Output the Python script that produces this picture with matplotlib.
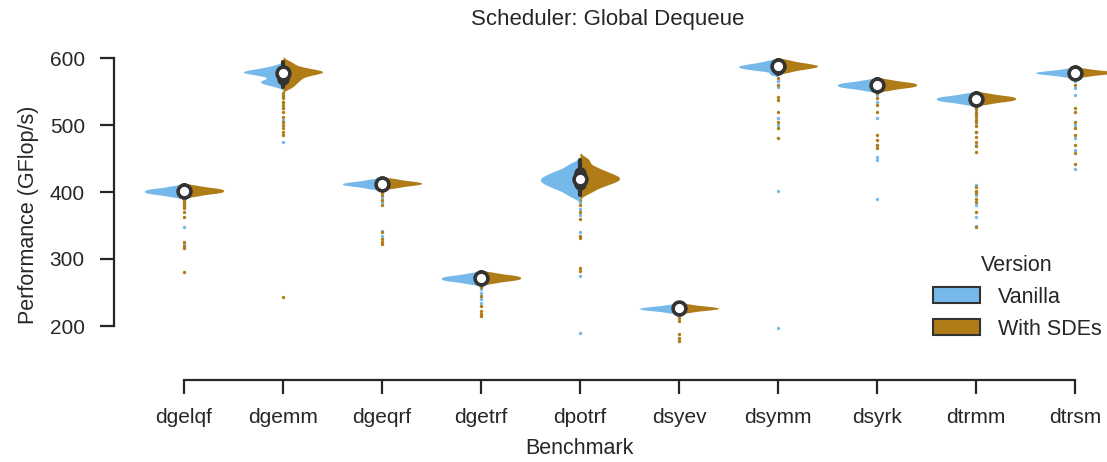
import numpy as np
import matplotlib
matplotlib.use("Agg")
import matplotlib.pyplot as plt
from matplotlib.patches import Patch

# ---------------- data ----------------
benchmarks = ["dgelqf", "dgemm", "dgeqrf", "dgetrf", "dpotrf",
              "dsyev", "dsymm", "dsyrk", "dtrmm", "dtrsm"]
versions = ["Vanilla", "With SDEs"]

# representative samples of the body of each distribution (GFlop/s)
vanilla_body = [
    [393, 395.5, 397, 398, 399, 400, 401, 402, 403, 404, 405, 406.5, 409],
    [559, 562, 564, 566, 568, 573, 575.5, 577, 578, 579, 580, 581, 582.5, 584.5, 588],
    [405, 407, 408.5, 409.5, 410.5, 411, 412, 413, 413.5, 414.5, 415.5, 417, 419],
    [263, 265.5, 267, 268, 269, 270, 271, 272, 273, 274, 275, 276.5, 279],
    [395, 402.5, 406.5, 410, 413, 415.5, 418, 420.5, 423, 426, 429.5, 433.5, 441],
    [220, 222, 223, 224, 224.5, 225.5, 226, 226.5, 227.5, 228, 229, 230, 232],
    [576, 581, 582.5, 584, 585, 586, 587, 588, 589, 590, 591.5, 593, 596],
    [551.5, 554, 555.5, 556.5, 557.5, 558.5, 559.5, 560.5, 561.5, 562.5, 563.5, 565, 567.5],
    [531, 533.5, 535, 536, 537, 538, 539, 540, 541, 542, 543, 544.5, 547],
    [572, 574, 575, 576, 576.5, 577.5, 578, 578.5, 579.5, 580, 581, 582, 584],
]
sdes_body = [
    [394, 396.5, 398, 399, 400, 401, 402, 403, 404, 405, 406, 407.5, 410],
    [556, 561, 565, 568, 571, 574, 576, 577.5, 578.5, 579.5, 580.5, 581.5, 583, 585, 589, 594],
    [406, 408, 409.5, 410.5, 411.5, 412, 413, 414, 414.5, 415.5, 416.5, 418, 420],
    [264, 266.5, 268, 269, 270, 271, 272, 273, 274, 275, 276, 277.5, 280],
    [400, 407, 411, 414, 417, 419, 421, 423.5, 426, 429, 433, 438, 448],
    [220.5, 222.5, 223.5, 224.5, 225, 226, 226.5, 227, 228, 228.5, 229.5, 230.5, 232.5],
    [579, 582, 583.5, 585, 586, 587, 588, 589, 590, 591, 592.5, 594, 597],
    [552, 554.5, 556, 557, 558, 559, 560, 561, 562, 563, 564, 565.5, 568],
    [531.5, 534, 535.5, 536.5, 537.5, 538.5, 539.5, 540.5, 541.5, 542.5, 543.5, 545, 547.5],
    [572.5, 574.5, 575.5, 576.5, 577, 578, 578.5, 579, 580, 580.5, 581.5, 582.5, 584.5],
]
# isolated low runs shown as small dots
vanilla_tail = [
    [395, 390, 385, 380, 348, 322, 318],
    [545, 535, 525, 507, 475],
    [398, 392, 385, 342, 335],
    [262, 255, 249, 240, 234],
    [385, 375, 365, 340, 275, 190],
    [219, 178],
    [565, 557, 510, 500, 401, 197],
    [545, 535, 510, 470, 452, 448, 390],
    [525, 515, 500, 490, 470, 410, 395, 380, 362, 350],
    [565, 555, 545, 500, 480, 462, 435],
]
sdes_tail = [
    [392, 388, 385, 382, 379, 376, 370, 362, 325, 320, 316, 280],
    [548, 544, 540, 535, 530, 525, 520, 512, 505, 500, 495, 490, 485, 243],
    [400, 395, 388, 380, 340, 330, 325, 322],
    [264, 258, 245, 230, 222, 218, 215],
    [388, 380, 370, 360, 335, 331, 287, 282],
    [218, 212, 208, 188, 182, 177],
    [570, 560, 542, 537, 519, 505, 496, 481],
    [548, 540, 530, 520, 485, 478, 470, 466],
    [528, 524, 520, 516, 512, 508, 505, 498, 490, 482, 475, 468, 460,
     408, 402, 398, 390, 385, 370, 348],
    [560, 525, 520, 505, 495, 485, 470, 458, 442],
]
yticks = [200, 300, 400, 500, 600]

# ---------------- style ----------------
BLUE = "#74b9e9"
BROWN = "#b07c18"
GRAY = "#333333"
TEXT = "#262626"
plt.rcParams["font.family"] = ["Liberation Sans", "DejaVu Sans"]
plt.rcParams["text.color"] = TEXT
plt.rcParams["axes.labelcolor"] = TEXT
plt.rcParams["xtick.color"] = TEXT
plt.rcParams["ytick.color"] = TEXT

W, H = 1107, 462
fig = plt.figure(figsize=(W / 100, H / 100), dpi=100)
ax_left, ax_right = 134.5, 1124.5
ax_top, ax_bot = 51.3, 359.5
ax = fig.add_axes([ax_left / W, 1 - ax_bot / H, (ax_right - ax_left) / W,
                   (ax_bot - ax_top) / H])
ax.set_xlim(-0.5, len(benchmarks) - 0.5)
ax.set_ylim(150, 610)


def kde(samples, bw_adjust=0.6, cut=2.0):
    s = np.asarray(samples, dtype=float)
    bw = bw_adjust * 1.06 * s.std(ddof=1) * len(s) ** (-0.2)
    grid = np.linspace(s.min() - cut * bw, s.max() + cut * bw, 300)
    d = np.exp(-0.5 * ((grid[:, None] - s[None, :]) / bw) ** 2).sum(axis=1)
    return grid, d / d.max()


half = 0.4
for i, name in enumerate(benchmarks):
    # tail dots
    ax.scatter(np.full(len(vanilla_tail[i]), i), vanilla_tail[i], s=6,
               color=BLUE, linewidths=0, zorder=1)
    ax.scatter(np.full(len(sdes_tail[i]), i), sdes_tail[i], s=6,
               color=BROWN, linewidths=0, zorder=1.1)
    # split violins
    g, d = kde(vanilla_body[i])
    ax.fill_betweenx(g, i - half * d, i, color=BLUE, linewidth=0, zorder=2)
    g, d = kde(sdes_body[i])
    ax.fill_betweenx(g, i, i + half * d, color=BROWN, linewidth=0, zorder=2)
    # inner box of the combined data
    data = np.array(vanilla_body[i] + sdes_body[i], dtype=float)
    q25, q50, q75 = np.percentile(data, [25, 50, 75])
    lim = 1.5 * (q75 - q25)
    h1 = data[data >= q25 - lim].min()
    h2 = data[data <= q75 + lim].max()
    ax.plot([i, i], [h1, h2], color=GRAY, lw=3, solid_capstyle="round", zorder=3)
    ax.plot([i, i], [q25, q75], color=GRAY, lw=9, solid_capstyle="round", zorder=3)
    ax.scatter([i], [q50], s=85, color="white", edgecolors=GRAY, linewidths=2.6,
               zorder=4)

# axes / spines
for side in ("top", "right"):
    ax.spines[side].set_visible(False)
off = 20.5 * 72 / 100
ax.spines["left"].set_position(("outward", off))
ax.spines["bottom"].set_position(("outward", off))
ax.spines["left"].set_bounds(yticks[0], yticks[-1])
ax.spines["bottom"].set_bounds(0, len(benchmarks) - 1)
for sp in ("left", "bottom"):
    ax.spines[sp].set_linewidth(1.6)
    ax.spines[sp].set_color(TEXT)
ax.set_yticks(yticks)
ax.set_xticks(range(len(benchmarks)))
ax.set_xticklabels(benchmarks)
ax.tick_params(axis="both", length=10, width=1.6, labelsize=15)
ax.tick_params(axis="y", pad=11)
ax.tick_params(axis="x", pad=10)
ax.set_ylabel("Performance (GFlop/s)", fontsize=15.5)
ax.set_xlabel("Benchmark", fontsize=15.5)
# label placement as in the reference (pixel positions -> axes fraction)
ax.yaxis.set_label_coords((29 - ax_left) / (ax_right - ax_left),
                          (ax_bot - 215) / (ax_bot - ax_top))
ax.xaxis.set_label_coords((579 - ax_left) / (ax_right - ax_left),
                          (ax_bot - 438) / (ax_bot - ax_top))
ax.yaxis.label.set_verticalalignment("center")
ax.xaxis.label.set_verticalalignment("top")

fig.text(608 / W, 1 - 19 / H, "Scheduler: Global Dequeue", ha="center",
         va="center", fontsize=16)

handles = [Patch(facecolor=BLUE, edgecolor=GRAY, linewidth=1.5),
           Patch(facecolor=BROWN, edgecolor=GRAY, linewidth=1.5)]
fig.legend(handles, versions, title="Version", loc="upper left",
           bbox_to_anchor=(933 / W, 1 - 255 / H), frameon=False, fontsize=15.5,
           title_fontsize=15.5, handlelength=2.2, handleheight=0.75,
           handletextpad=0.8, labelspacing=0.5, borderpad=0, borderaxespad=0)

fig.savefig("out.png", dpi=100)
